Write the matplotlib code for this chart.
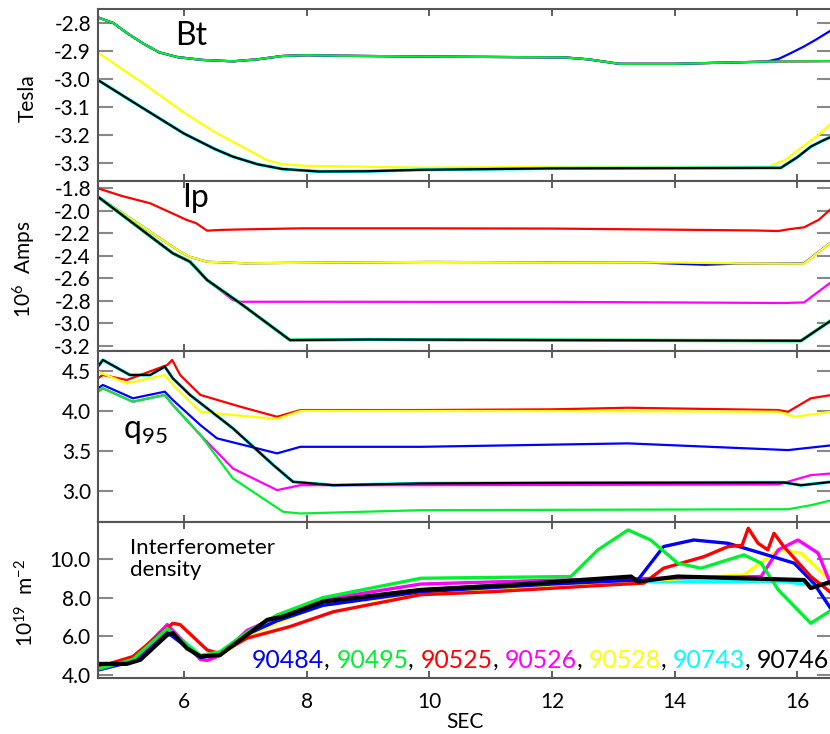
"""
Plasma shot overview: Bt, Ip, q95 and interferometer density vs time.
"""

import numpy as np
import matplotlib
matplotlib.use("Agg")
import matplotlib.pyplot as plt
from matplotlib.offsetbox import TextArea, HPacker, AnchoredOffsetbox

plt.rcParams['font.family'] = ['Lato', 'DejaVu Sans']
plt.rcParams['mathtext.fontset'] = 'custom'
plt.rcParams['mathtext.rm'] = 'Lato'
plt.rcParams['mathtext.it'] = 'Lato:italic'
plt.rcParams['mathtext.bf'] = 'Lato:bold'

# ── Shots / colours ───────────────────────────────────────────────────────────
SHOTS = ["90484", "90495", "90525", "90526", "90528", "90743", "90746"]
COLORS = {
    "90484": "#0000ff",
    "90495": "#00f030",
    "90525": "#ff0000",
    "90526": "#ff00ff",
    "90528": "#ffff00",
    "90743": "#00ffff",
    "90746": "#000000",
}

# ── Bt [Tesla] ────────────────────────────────────────────────────────────────
bt_top_t = [4.6, 4.85, 5.1, 5.35, 5.6, 5.9, 6.3, 6.8, 7.2, 7.6, 8.0, 8.5, 10.0, 12.2, 12.6,
            13.1, 14.0, 15.5, 16.56]
bt_top   = [-2.78, -2.80, -2.84, -2.875, -2.905, -2.922, -2.932, -2.937, -2.93, -2.918,
            -2.915, -2.917, -2.92, -2.923, -2.93, -2.946, -2.946, -2.938, -2.936]
bt_blue_t = [4.6, 4.85, 5.1, 5.35, 5.6, 5.9, 6.3, 6.8, 7.2, 7.6, 8.0, 8.5, 10.0, 12.2, 12.6,
             13.1, 14.0, 15.5, 15.7, 15.9, 16.1, 16.3, 16.56]
bt_blue   = [-2.78, -2.80, -2.84, -2.875, -2.905, -2.922, -2.932, -2.937, -2.93, -2.918,
             -2.915, -2.917, -2.92, -2.923, -2.93, -2.946, -2.946, -2.938, -2.928, -2.907,
             -2.885, -2.86, -2.825]
bt_yellow_t = [4.6, 5.3, 6.0, 6.5, 6.8, 7.1, 7.35, 7.6, 8.0, 8.44, 9.86, 12.0, 15.54, 15.8,
               16.1, 16.35, 16.56]
bt_yellow   = [-2.906, -3.01, -3.12, -3.19, -3.225, -3.26, -3.29, -3.305, -3.311, -3.312,
               -3.317, -3.315, -3.313, -3.29, -3.24, -3.2, -3.157]
bt_black_t = [4.6, 5.3, 6.0, 6.5, 6.8, 7.2, 7.6, 8.2, 9.0, 9.86, 12.0, 15.73, 16.0, 16.22,
              16.4, 16.56]
bt_black   = [-3.004, -3.10, -3.195, -3.25, -3.278, -3.305, -3.322, -3.331, -3.33, -3.325,
              -3.32, -3.318, -3.28, -3.242, -3.222, -3.206]

# ── Ip [10^6 A] ───────────────────────────────────────────────────────────────
ip_red_t = [4.6, 5.0, 5.45, 6.05, 6.2, 6.38, 6.6, 7.0, 7.9, 10.0, 12.0, 14.59, 15.3, 15.69,
            15.85, 16.11, 16.35, 16.56]
ip_red   = [-1.80, -1.87, -1.933, -2.082, -2.11, -2.177, -2.17, -2.165, -2.156, -2.156,
            -2.158, -2.171, -2.175, -2.18, -2.165, -2.147, -2.08, -1.978]
ip_blue_t = [4.6, 5.94, 6.1, 6.38, 7.0, 8.0, 10.0, 12.0, 13.5, 14.5, 15.0, 16.11, 16.56]
ip_blue   = [-1.875, -2.364, -2.41, -2.453, -2.467, -2.462, -2.455, -2.458, -2.46, -2.48,
             -2.47, -2.467, -2.275]
ip_yellow_t = [4.6, 5.94, 6.1, 6.38, 7.0, 8.0, 10.0, 12.0, 14.0, 15.0, 16.11, 16.56]
ip_yellow   = [-1.875, -2.364, -2.41, -2.453, -2.467, -2.462, -2.455, -2.46, -2.46, -2.468,
               -2.47, -2.275]
ip_magenta_t = [4.6, 5.82, 6.1, 6.38, 6.8, 6.92, 8.0, 10.0, 12.0, 15.78, 16.11, 16.56]
ip_magenta   = [-1.875, -2.378, -2.453, -2.616, -2.795, -2.809, -2.809, -2.81, -2.81, -2.82,
                -2.815, -2.631]
ip_black_t = [4.6, 5.82, 6.1, 6.38, 6.92, 7.73, 9.0, 12.0, 14.0, 16.06, 16.56]
ip_black   = [-1.875, -2.378, -2.453, -2.616, -2.823, -3.15, -3.145, -3.15, -3.153, -3.156,
              -2.972]

# ── q95 ───────────────────────────────────────────────────────────────────────
q_black_t = [4.6, 4.68, 5.12, 5.45, 5.69, 5.82, 6.10, 6.80, 7.46, 7.78, 8.44, 9.86, 12.0,
             15.78, 16.06, 16.56]
q_black   = [4.554, 4.638, 4.45, 4.45, 4.554, 4.408, 4.2, 3.782, 3.322, 3.113, 3.071, 3.093,
             3.10, 3.105, 3.07, 3.113]
q_red_t = [4.6, 4.68, 5.07, 5.73, 5.81, 5.94, 6.27, 6.92, 7.52, 7.90, 9.86, 12.0, 13.24,
           15.69, 15.85, 16.22, 16.56]
q_red   = [4.408, 4.45, 4.387, 4.575, 4.638, 4.45, 4.2, 4.053, 3.927, 4.011, 4.011, 4.02,
           4.04, 4.011, 3.99, 4.158, 4.2]
q_yellow_t = [4.6, 5.07, 5.69, 5.82, 6.27, 6.80, 7.52, 7.90, 9.86, 12.0, 15.69, 15.95, 16.56]
q_yellow   = [4.49, 4.345, 4.45, 4.325, 3.99, 3.949, 3.90, 4.0, 3.999, 3.999, 3.99, 3.927, 3.99]
q_blue_t = [4.6, 4.68, 5.17, 5.69, 5.82, 6.27, 6.54, 7.52, 7.90, 9.86, 13.24, 15.85, 16.56]
q_blue   = [4.283, 4.325, 4.158, 4.241, 4.137, 3.823, 3.657, 3.469, 3.551, 3.551, 3.594,
            3.51, 3.57]
q_magenta_t = [4.6, 4.68, 5.17, 5.69, 5.82, 6.27, 6.80, 7.52, 7.90, 9.86, 15.69, 16.22, 16.56]
q_magenta   = [4.24, 4.283, 4.115, 4.2, 4.075, 3.698, 3.28, 3.009, 3.071, 3.071, 3.08,
               3.197, 3.218]
q_green_t = [4.6, 4.68, 5.17, 5.69, 5.82, 6.27, 6.80, 7.62, 7.90, 9.86, 15.85, 16.22, 16.56]
q_green   = [4.241, 4.283, 4.115, 4.2, 4.075, 3.70, 3.155, 2.737, 2.717, 2.758, 2.77, 2.82,
             2.883]

# ── Interferometer density [10^19 m^-2] ───────────────────────────────────────
n_black_t = [4.6, 5.07, 5.29, 5.73, 5.82, 6.05, 6.27, 6.59, 7.03, 7.36, 7.62, 8.27, 9.86,
             11.33, 13.29, 13.40, 14.05, 16.11, 16.22, 16.56]
n_black   = [4.57, 4.57, 4.78, 6.07, 6.16, 5.38, 4.95, 5.03, 6.07, 6.85, 7.02, 7.79, 8.4,
             8.66, 9.09, 8.83, 9.09, 8.91, 8.49, 8.83]
n_red_t = [4.6, 5.17, 5.82, 5.94, 6.38, 6.59, 7.03, 7.73, 8.44, 9.86, 11.0, 12.96, 13.50,
           13.82, 14.48, 14.87, 15.1, 15.20, 15.36, 15.52, 15.62, 15.78, 16.22, 16.56]
n_red   = [4.4, 4.95, 6.67, 6.6, 5.29, 5.1, 5.9, 6.5, 7.27, 8.15, 8.3, 8.66, 8.75, 9.52,
           10.12, 10.64, 10.7, 11.59, 10.81, 10.47, 11.33, 10.64, 9.09, 8.23]
n_green_t = [4.6, 5.17, 5.73, 6.27, 6.59, 7.03, 7.52, 8.27, 9.86, 12.31, 12.75, 13.24,
             13.61, 14.05, 14.43, 15.13, 15.41, 15.69, 16.22, 16.56]
n_green   = [4.3, 4.8, 6.4, 5.0, 5.2, 6.2, 7.1, 8.0, 9.0, 9.09, 10.47, 11.5, 10.98, 9.78,
             9.52, 10.21, 9.78, 8.4, 6.67, 7.36]
n_blue_t = [4.6, 5.17, 5.73, 6.27, 6.59, 7.03, 7.52, 8.27, 9.86, 12.0, 13.40, 13.82, 14.31,
            14.87, 15.41, 15.95, 16.27, 16.56]
n_blue   = [4.25, 4.7, 6.2, 4.9, 5.1, 6.1, 6.8, 7.6, 8.3, 8.7, 8.91, 10.64, 10.98, 10.81,
            10.3, 9.78, 8.74, 7.36]
n_magenta_t = [4.6, 5.17, 5.73, 6.27, 6.38, 6.59, 7.03, 7.52, 8.27, 9.86, 12.0, 15.41,
               15.69, 16.01, 16.34, 16.56]
n_magenta   = [4.3, 4.8, 6.6, 4.8, 4.75, 5.0, 6.3, 7.0, 7.9, 8.7, 8.9, 9.09, 10.47, 10.98,
               10.3, 8.57]
n_yellow_t = [4.6, 5.17, 5.73, 6.27, 6.59, 7.03, 7.52, 8.27, 9.86, 12.0, 15.13, 15.69,
              16.06, 16.56]
n_yellow   = [4.35, 4.85, 6.4, 5.0, 5.0, 6.0, 6.7, 7.6, 8.2, 8.6, 9.17, 10.47, 10.3, 8.83]
n_cyan_t = [4.6, 5.17, 5.73, 6.27, 6.59, 7.03, 7.52, 8.27, 9.86, 12.0, 15.78, 16.1, 16.56]
n_cyan   = [4.4, 4.85, 6.5, 5.0, 5.1, 6.2, 6.9, 7.8, 8.4, 8.8, 8.83, 8.7, 8.7]

# ── Axis settings ─────────────────────────────────────────────────────────────
XLIM = (4.6, 16.56)
XTICKS = [6, 8, 10, 12, 14, 16]
SPINE = '#555555'
TICKC = '#888888'
FS = 15


def style_axis(ax, ylim, yticks, fmt):
    ax.set_xlim(*XLIM)
    ax.set_ylim(*ylim)
    ax.set_xticks(XTICKS)
    ax.set_yticks(yticks)
    ax.set_yticklabels([fmt % v for v in yticks])
    ax.tick_params(axis='y', direction='in', left=True, right=True, length=11,
                   width=1.5, color=TICKC, labelsize=FS, pad=5)
    ax.tick_params(axis='x', direction='in', top=True, bottom=True, length=5,
                   width=1.2, color='#444444', labelsize=FS, labelbottom=False)
    for s in ax.spines.values():
        s.set_color(SPINE)
        s.set_linewidth(1.5)


fig = plt.figure(figsize=(8.3, 7.34), dpi=100)
L, R = 0.118, 1.002
bounds = [(0.7534, 0.9877), (0.5218, 0.7534), (0.2888, 0.5218), (0.0763, 0.2888)]
axes = [fig.add_axes([L, b, R - L, t - b]) for b, t in bounds]
ax_bt, ax_ip, ax_q, ax_n = axes

# Bt
lw = 1.6
ax_bt.plot(bt_top_t, bt_top, color=COLORS["90525"], lw=lw)
ax_bt.plot(bt_top_t, bt_top, color=COLORS["90526"], lw=lw)
ax_bt.plot(bt_blue_t, bt_blue, color=COLORS["90484"], lw=lw)
ax_bt.plot(bt_top_t, bt_top, color=COLORS["90495"], lw=lw)
ax_bt.plot(bt_yellow_t, bt_yellow, color=COLORS["90528"], lw=lw)
ax_bt.plot(bt_black_t, bt_black, color=COLORS["90743"], lw=lw + 0.8)
ax_bt.plot(bt_black_t, bt_black, color=COLORS["90746"], lw=lw)
style_axis(ax_bt, (-3.365, -2.75), [-2.8, -2.9, -3.0, -3.1, -3.2, -3.3], "%.1f")
ax_bt.set_ylabel("Tesla", fontsize=FS)
ax_bt.text(0.105, 0.79, "Bt", transform=ax_bt.transAxes, fontsize=23)

# Ip
ax_ip.plot(ip_red_t, ip_red, color=COLORS["90525"], lw=lw)
ax_ip.plot(ip_blue_t, ip_blue, color=COLORS["90484"], lw=lw)
ax_ip.plot(ip_yellow_t, ip_yellow, color=COLORS["90528"], lw=lw)
ax_ip.plot(ip_magenta_t, ip_magenta, color=COLORS["90526"], lw=lw)
ax_ip.plot(ip_black_t, ip_black, color=COLORS["90495"], lw=lw + 0.8)
ax_ip.plot(ip_black_t, ip_black, color=COLORS["90743"], lw=lw + 0.4)
ax_ip.plot(ip_black_t, ip_black, color=COLORS["90746"], lw=lw)
style_axis(ax_ip, (-3.247, -1.735), [-1.8, -2.0, -2.2, -2.4, -2.6, -2.8, -3.0, -3.2], "%.1f")
ax_ip.set_ylabel(r"10$^{6}$  Amps", fontsize=FS)
ax_ip.text(0.115, 0.847, "Ip", transform=ax_ip.transAxes, fontsize=23)

# q95
ax_q.plot(q_black_t, q_black, color=COLORS["90743"], lw=lw + 0.8)
ax_q.plot(q_red_t, q_red, color=COLORS["90525"], lw=lw)
ax_q.plot(q_yellow_t, q_yellow, color=COLORS["90528"], lw=lw)
ax_q.plot(q_blue_t, q_blue, color=COLORS["90484"], lw=lw)
ax_q.plot(q_magenta_t, q_magenta, color=COLORS["90526"], lw=lw)
ax_q.plot(q_green_t, q_green, color=COLORS["90495"], lw=lw)
ax_q.plot(q_black_t, q_black, color=COLORS["90746"], lw=lw)
style_axis(ax_q, (2.61, 4.75), [3.0, 3.5, 4.0, 4.5], "%.1f")
ax_q.text(0.034, 0.49, r"q$_{\mathrm{95}}$", transform=ax_q.transAxes, fontsize=23)

# density
lwn = 2.4
ax_n.plot(n_cyan_t, n_cyan, color=COLORS["90743"], lw=lwn)
ax_n.plot(n_yellow_t, n_yellow, color=COLORS["90528"], lw=lwn)
ax_n.plot(n_magenta_t, n_magenta, color=COLORS["90526"], lw=lwn)
ax_n.plot(n_blue_t, n_blue, color=COLORS["90484"], lw=lwn)
ax_n.plot(n_red_t, n_red, color=COLORS["90525"], lw=lwn)
ax_n.plot(n_green_t, n_green, color=COLORS["90495"], lw=lwn)
ax_n.plot(n_black_t, n_black, color=COLORS["90746"], lw=3.0)
style_axis(ax_n, (3.84, 11.91), [4.0, 6.0, 8.0, 10.0], "%.1f")
ax_n.tick_params(axis='x', labelbottom=True, pad=10)
ax_n.set_ylabel(r"10$^{19}$  m$^{-2}$", fontsize=FS)
ax_n.set_xlabel("SEC", fontsize=FS, labelpad=0)
ax_n.text(0.044, 0.897, "Interferometer\ndensity", transform=ax_n.transAxes,
          fontsize=16, va='top', linespacing=1.1)

for ax in axes:
    ax.yaxis.set_label_coords(-0.082, 0.48)

# coloured shot list
parts = []
for i, shot in enumerate(SHOTS):
    parts.append(TextArea(shot, textprops=dict(color=COLORS[shot], fontsize=17.9)))
    if i < len(SHOTS) - 1:
        parts.append(TextArea(", ", textprops=dict(color='black', fontsize=17.9)))
pack = HPacker(children=parts, align="baseline", pad=0, sep=0)
box = AnchoredOffsetbox(loc='lower left', child=pack, pad=0, borderpad=0, frameon=False,
                        bbox_to_anchor=(0.21, 0.04), bbox_transform=ax_n.transAxes)
ax_n.add_artist(box)

fig.savefig("out.png", dpi=100)
